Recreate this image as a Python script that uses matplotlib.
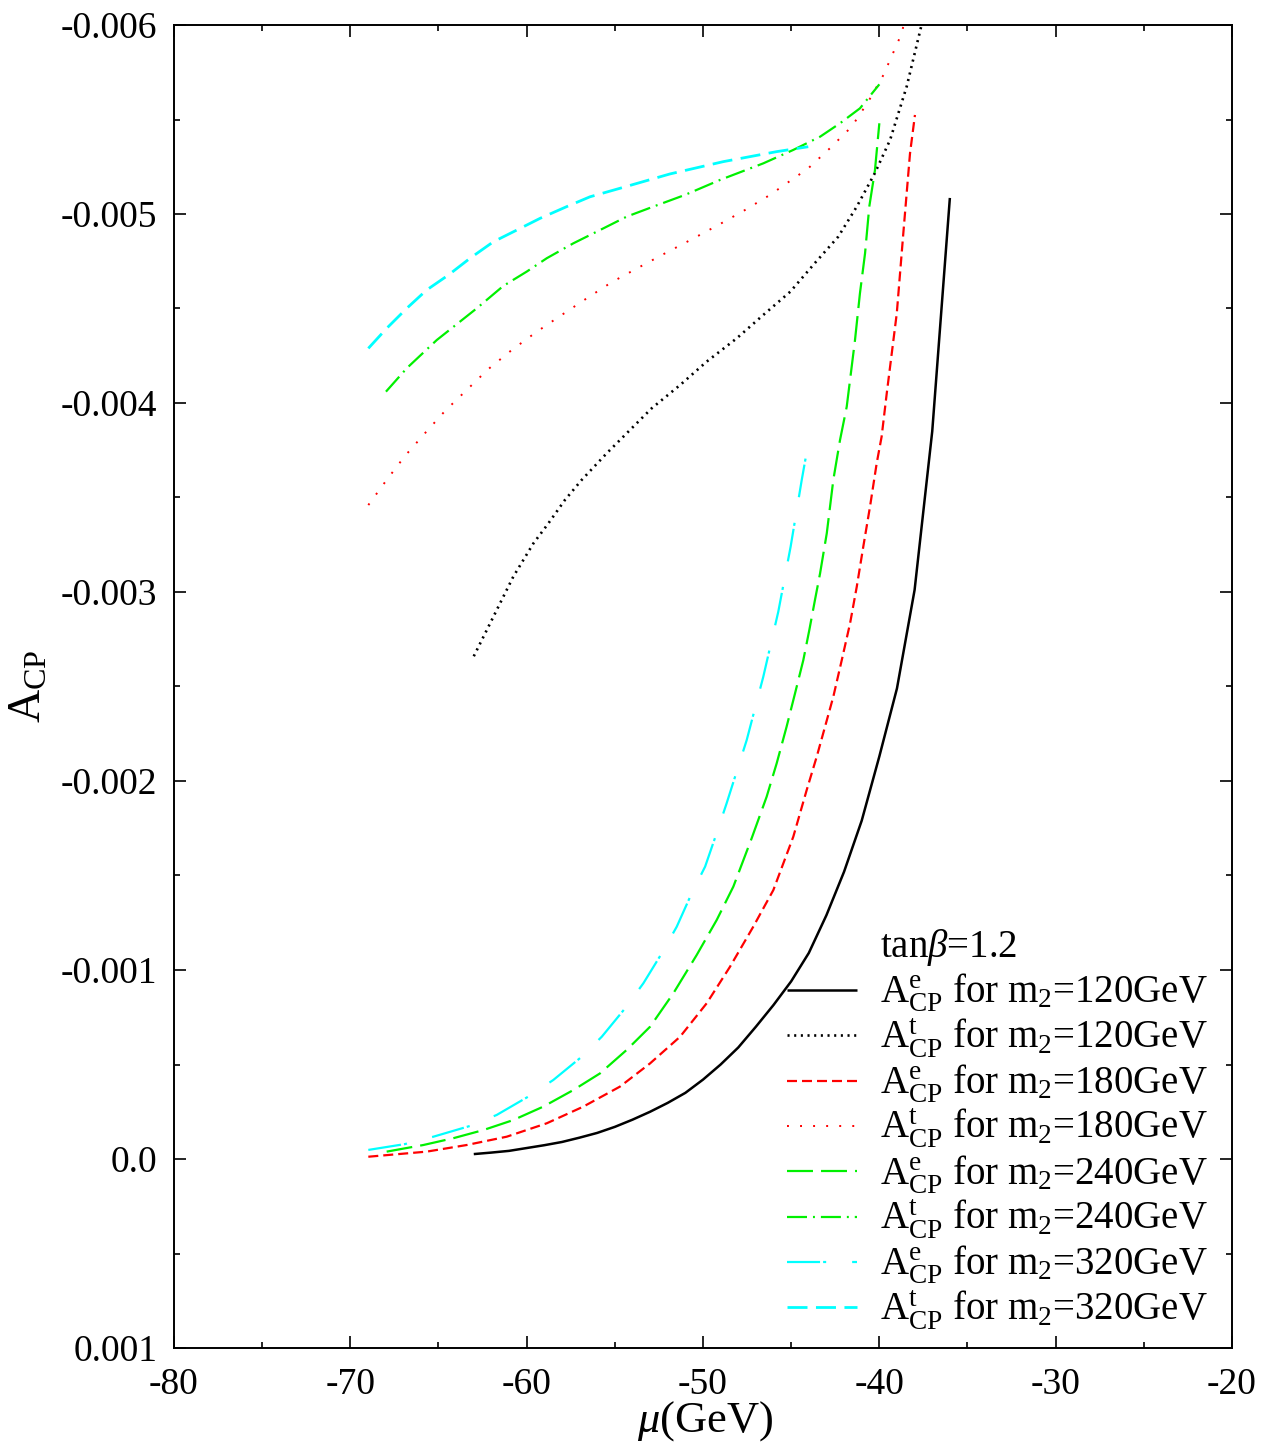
import matplotlib
matplotlib.use("Agg")
import matplotlib.pyplot as plt
from matplotlib.lines import Line2D
from matplotlib.ticker import MultipleLocator

plt.rcParams["font.family"] = ["Liberation Serif", "DejaVu Serif"]
plt.rcParams["mathtext.fontset"] = "custom"
plt.rcParams["mathtext.rm"] = "Liberation Serif"
plt.rcParams["mathtext.it"] = "Liberation Serif:italic"
plt.rcParams["lines.scale_dashes"] = False

# ---- data: mu (GeV) and A_CP --------------------------------------------
mu_e120 = [-63, -62, -61, -60, -59, -58, -57, -56, -55, -54, -53, -52, -51, -50,
           -49, -48, -47, -46, -45, -44, -43, -42, -41, -40, -39, -38, -37, -36]
a_e120 = [-0.000026, -0.000034, -0.000043, -0.000058, -0.000073, -0.000090, -0.000113,
          -0.000138, -0.000170, -0.000208, -0.000250, -0.000297, -0.000350, -0.000420,
          -0.000500, -0.000590, -0.000700, -0.000815, -0.000940, -0.001090, -0.001290,
          -0.001520, -0.001790, -0.002130, -0.002490, -0.003011, -0.003850, -0.005085]

mu_t120 = [-63.0, -60.76, -59.62, -58.77, -57.83, -56.88, -55.46, -53.95, -52.91, -51.30,
           -49.79, -48.09, -46.58, -45.05, -43.65, -42.33, -41.28, -40.25, -39.39, -38.45,
           -37.63, -37.4]
a_t120 = [-0.002660, -0.003081, -0.003257, -0.003363, -0.003487, -0.003593, -0.003734,
          -0.003875, -0.003972, -0.004095, -0.004219, -0.004342, -0.004466, -0.004589,
          -0.004741, -0.004880, -0.005039, -0.005217, -0.005392, -0.005674, -0.005991,
          -0.006120]

mu_e180 = [-68.98, -65.67, -63.40, -61.13, -58.86, -56.79, -54.71, -53.0, -51.30, -49.79,
           -48.47, -47.15, -46.01, -44.88, -44.12, -43.55, -43.08, -42.61, -42.13, -41.66,
           -41.28, -40.91, -40.53, -40.15, -39.87, -39.58, -39.01, -38.64, -38.26, -37.98]
a_e180 = [-0.000012, -0.000039, -0.000074, -0.000118, -0.000189, -0.000277, -0.000383,
          -0.000506, -0.000647, -0.000824, -0.001017, -0.001229, -0.001423, -0.001705,
          -0.001952, -0.002129, -0.002287, -0.002446, -0.002640, -0.002834, -0.003028,
          -0.003240, -0.003451, -0.003681, -0.003822, -0.004051, -0.004475, -0.004898,
          -0.005321, -0.005524]

mu_t180 = [-68.98, -67.94, -66.90, -65.77, -64.63, -63.40, -62.18, -60.85, -59.43, -58.01,
           -56.59, -55.18, -53.67, -52.15, -50.64, -49.13, -47.62, -46.20, -44.03, -42.80,
           -41.57, -40.63, -39.77, -38.73, -38.55]
a_t180 = [-0.003460, -0.003593, -0.003720, -0.003840, -0.003958, -0.004069, -0.004179,
          -0.004280, -0.004377, -0.004466, -0.004554, -0.004639, -0.004716, -0.004792,
          -0.004866, -0.004942, -0.005021, -0.005101, -0.005242, -0.005348, -0.005462,
          -0.005594, -0.005735, -0.005956, -0.006030]

mu_e240 = [-67.94, -65.86, -64.16, -62.46, -60.76, -59.06, -57.35, -55.84, -54.33, -53.0,
           -51.68, -50.36, -49.22, -48.28, -47.24, -46.39, -45.82, -45.26, -44.78, -44.31,
           -43.97, -43.65, -43.36, -42.98, -42.61, -42.23, -41.85, -41.38, -41.10, -40.81,
           -40.57, -40.25, -40.0]
a_e240 = [-0.000039, -0.000074, -0.000110, -0.000153, -0.000206, -0.000277, -0.000365,
          -0.000453, -0.000577, -0.000700, -0.000877, -0.001079, -0.001265, -0.001441,
          -0.001697, -0.001917, -0.002094, -0.002287, -0.002464, -0.002640, -0.002799,
          -0.002958, -0.003099, -0.003311, -0.003593, -0.003804, -0.003980, -0.004333,
          -0.004580, -0.004792, -0.005039, -0.005230, -0.005480]

mu_t240 = [-67.98, -66.80, -65.10, -62.83, -61.33, -60.00, -58.86, -57.35, -55.65, -54.33,
           -52.82, -51.02, -49.04, -46.58, -44.88, -43.36, -42.23, -41.10, -40.0]
a_t240 = [-0.004060, -0.004184, -0.004333, -0.004501, -0.004619, -0.004695, -0.004766,
          -0.004845, -0.004924, -0.004986, -0.005039, -0.005101, -0.005180, -0.005268,
          -0.005339, -0.005409, -0.005480, -0.005559, -0.005686]

mu_e320 = [-68.98, -66.90, -65.29, -63.21, -61.70, -59.91, -58.49, -56.88, -55.74, -54.42,
           -53.38, -52.34, -51.49, -50.64, -49.88, -49.23, -48.66, -47.52, -46.58, -45.73,
           -45.03, -44.40, -44.03]
a_e320 = [-0.000048, -0.000079, -0.000118, -0.000175, -0.000233, -0.000330, -0.000418,
          -0.000541, -0.000647, -0.000797, -0.000930, -0.001088, -0.001229, -0.001406,
          -0.001547, -0.001723, -0.001882, -0.002217, -0.002552, -0.002896, -0.003240,
          -0.003593, -0.003787]

mu_t320 = [-68.98, -67.94, -66.80, -65.67, -64.44, -63.21, -61.89, -60.56, -59.24, -57.73,
           -56.41, -54.71, -51.87, -48.85, -45.82, -44.03]
a_t320 = [-0.004289, -0.004395, -0.004501, -0.004598, -0.004677, -0.004766, -0.004853,
          -0.004915, -0.004977, -0.005039, -0.005091, -0.005136, -0.005212, -0.005277,
          -0.005330, -0.005356]

x_ticks = [-80, -70, -60, -50, -40, -30, -20]
x_tick_labels = ["-80", "-70", "-60", "-50", "-40", "-30", "-20"]
y_ticks = [-0.006, -0.005, -0.004, -0.003, -0.002, -0.001, 0.0, 0.001]
y_tick_labels = ["-0.006", "-0.005", "-0.004", "-0.003", "-0.002", "-0.001", "0.0", "0.001"]

legend_title = r"tan$\beta$=1.2"
labels = [
    r"$\mathrm{A^{e}_{CP}}$ for m$_{2}$=120GeV",
    r"$\mathrm{A^{t}_{CP}}$ for m$_{2}$=120GeV",
    r"$\mathrm{A^{e}_{CP}}$ for m$_{2}$=180GeV",
    r"$\mathrm{A^{t}_{CP}}$ for m$_{2}$=180GeV",
    r"$\mathrm{A^{e}_{CP}}$ for m$_{2}$=240GeV",
    r"$\mathrm{A^{t}_{CP}}$ for m$_{2}$=240GeV",
    r"$\mathrm{A^{e}_{CP}}$ for m$_{2}$=320GeV",
    r"$\mathrm{A^{t}_{CP}}$ for m$_{2}$=320GeV",
]

# ---- line styles (dash patterns in points) --------------------------------
GREEN = "#00f000"
styles = [
    dict(color="black", lw=1.8, ls="-"),
    dict(color="black", lw=1.9, ls=(0, (1.5, 3.3))),
    dict(color="#ff0000", lw=1.6, ls=(0, (7.2, 3.6))),
    dict(color="#ff0000", lw=1.4, ls=(0, (1.4, 8.0))),
    dict(color=GREEN, lw=1.6, ls=(0, (18.7, 5.8))),
    dict(color=GREEN, lw=1.6, ls=(0, (14.4, 4.3, 1.4, 4.3))),
    dict(color="#00ffff", lw=1.6, ls=(0, (23.8, 2.2, 2.2, 18.7))),
    dict(color="#00ffff", lw=2.0, ls=(0, (14.4, 6.1))),
]
series = [(mu_e120, a_e120), (mu_t120, a_t120), (mu_e180, a_e180), (mu_t180, a_t180),
          (mu_e240, a_e240), (mu_t240, a_t240), (mu_e320, a_e320), (mu_t320, a_t320)]

# ---- figure layout (pixel based) -------------------------------------------
W_PX, H_PX = 1262, 1446
AX_L, AX_R, AX_T, AX_B = 174, 1232, 25, 1348

fig = plt.figure(figsize=(W_PX / 100, H_PX / 100), dpi=100)
ax = fig.add_axes([AX_L / W_PX, 1 - AX_B / H_PX, (AX_R - AX_L) / W_PX, (AX_B - AX_T) / H_PX])

for (mu, a), st in zip(series, styles):
    ax.plot(mu, a, color=st["color"], lw=st["lw"], linestyle=st["ls"],
            solid_capstyle="butt", dash_capstyle="butt", solid_joinstyle="round")

ax.set_xlim(-80, -20)
ax.set_ylim(0.001, -0.006)
ax.set_xticks(x_ticks, x_tick_labels)
ax.set_yticks(y_ticks, y_tick_labels)
ax.xaxis.set_minor_locator(MultipleLocator(5))
ax.yaxis.set_minor_locator(MultipleLocator(0.0005))
ax.tick_params(which="both", direction="in", top=True, right=True, width=1.2,
               labelsize=27)
ax.tick_params(which="major", length=8.5)
ax.tick_params(which="minor", length=4.3)
ax.tick_params(axis="y", pad=12)
ax.tick_params(axis="x", pad=14)
for sp in ax.spines.values():
    sp.set_linewidth(1.4)


def px_to_ax(x, y):
    return (x - AX_L) / (AX_R - AX_L), (AX_B - y) / (AX_B - AX_T)


# axis titles
fig.text(29 / W_PX, 1 - 686 / H_PX, r"$\mathrm{A}_{\mathrm{CP}}$", fontsize=33,
         rotation=90, ha="center", va="center")
fig.text(705 / W_PX, 1 - 1421 / H_PX, r"$\mu$(GeV)", fontsize=32,
         ha="center", va="center")

# legend block
LEG_X0, LEG_X1, LEG_TX = 787, 857, 880
TITLE_BASE = 957
ROW0_BASE, ROW_STEP = 1003, 45.3
tx, ty = px_to_ax(LEG_TX, TITLE_BASE)
ax.text(tx, ty, legend_title, transform=ax.transAxes, fontsize=28,
        ha="left", va="baseline")
for i, (lab, st) in enumerate(zip(labels, styles)):
    base = ROW0_BASE + i * ROW_STEP
    hx0, hy = px_to_ax(LEG_X0, base - 13)
    hx1, _ = px_to_ax(LEG_X1, base - 13)
    ax.add_line(Line2D([hx0, hx1], [hy, hy], transform=ax.transAxes,
                       color=st["color"], lw=st["lw"], linestyle=st["ls"],
                       solid_capstyle="butt", dash_capstyle="butt"))
    lx, ly = px_to_ax(LEG_TX, base)
    ax.text(lx, ly, lab, transform=ax.transAxes, fontsize=28,
            ha="left", va="baseline")

fig.savefig("out.png", dpi=100)
